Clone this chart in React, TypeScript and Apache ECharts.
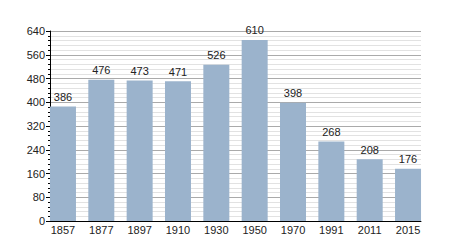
import React, { useEffect, useRef } from "react";
import * as echarts from "echarts";

const categories = ["1857", "1877", "1897", "1910", "1930", "1950", "1970", "1991", "2011", "2015"];
const values = [386, 476, 473, 471, 526, 610, 398, 268, 208, 176];
const yMin = 0;
const yMax = 640;
const yInterval = 80;

export default function App() {
  const ref = useRef<HTMLDivElement>(null);
  useEffect(() => {
    if (!ref.current) return;
    const chart = echarts.init(ref.current, undefined, { renderer: "svg" });
    const font = "'Liberation Sans', Arial, sans-serif";
    chart.setOption({
      animation: false,
      backgroundColor: "#ffffff",
      grid: [
        { left: 50, right: 29, top: 31, bottom: 29 },
        { left: 43.8, right: 22.8, top: 31, bottom: 29 },
      ],
      xAxis: [
        {
          type: "category",
          gridIndex: 0,
          data: categories,
          axisLine: { show: true, lineStyle: { color: "#000", width: 1 } },
          axisTick: { show: false },
          axisLabel: { show: false },
          splitLine: { show: false },
        },
        {
          type: "category",
          gridIndex: 1,
          data: categories,
          axisLine: { show: false },
          axisTick: { show: false },
          axisLabel: { color: "#222", fontSize: 11, fontFamily: font, margin: 3 },
        },
      ],
      yAxis: [
        {
          type: "value",
          gridIndex: 0,
          min: yMin,
          max: yMax,
          interval: yInterval,
          axisLine: { show: true, lineStyle: { color: "#000", width: 1 } },
          axisTick: { show: true, length: 4, lineStyle: { color: "#000" } },
          minorTick: { show: true, splitNumber: 5, length: 2, lineStyle: { color: "#000" } },
          axisLabel: { color: "#222", fontSize: 11, fontFamily: font, margin: 5 },
          splitLine: { show: true, lineStyle: { color: "#aaaaaa", width: 1 } },
          minorSplitLine: { show: true, lineStyle: { color: "#e2e2e2", width: 1 } },
        },
        {
          type: "value",
          gridIndex: 1,
          min: yMin,
          max: yMax,
          interval: yInterval,
          show: false,
          splitLine: { show: false },
        },
      ],
      series: [
        {
          type: "bar",
          xAxisIndex: 1,
          yAxisIndex: 1,
          data: values,
          barWidth: 26,
          itemStyle: { color: "#9bb3cc" },
          label: {
            show: true,
            position: "top",
            distance: 4,
            color: "#222",
            fontSize: 11,
            fontFamily: font,
          },
        },
      ],
    });
    return () => chart.dispose();
  }, []);
  return <div ref={ref} style={{ width: 450, height: 250, position: "absolute", left: 0, top: 0 }} />;
}
